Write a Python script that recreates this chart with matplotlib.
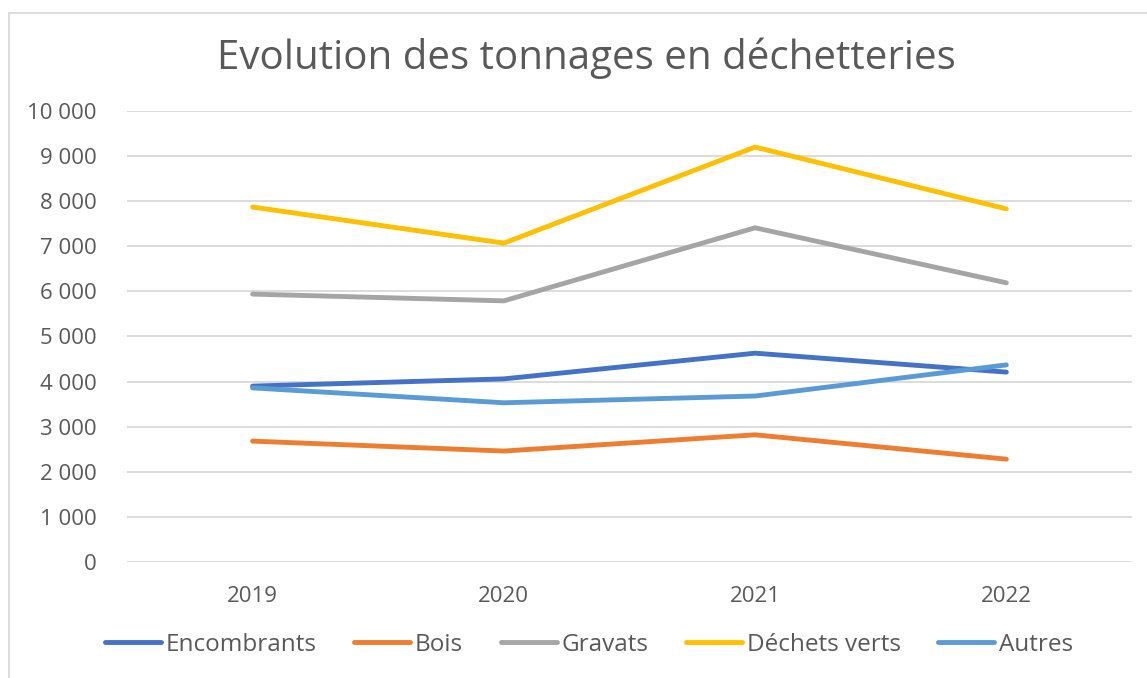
import matplotlib
matplotlib.use('Agg')
import matplotlib.pyplot as plt
from matplotlib.lines import Line2D
from matplotlib.ticker import FuncFormatter
import numpy as np

annees = ['2019', '2020', '2021', '2022']
encombrants = [3900, 4060, 4630, 4210]
bois = [2680, 2460, 2820, 2280]
gravats = [5940, 5790, 7410, 6190]
dechets_verts = [7870, 7070, 9200, 7830]
autres = [3860, 3530, 3680, 4370]

series = [('Encombrants', encombrants, '#4472C4'),
          ('Bois', bois, '#ED7D31'),
          ('Gravats', gravats, '#A5A5A5'),
          ('Déchets verts', dechets_verts, '#FFC000'),
          ('Autres', autres, '#5B9BD5')]

plt.rcParams['font.family'] = ['Open Sans', 'DejaVu Sans']
gris = '#595959'

fig = plt.figure(figsize=(11.47, 6.78), dpi=100)
ax = fig.add_axes([0.1107, 0.1711, 0.8762, 0.6652])

x = np.arange(len(annees))
for nom, vals, c in series:
    ax.plot(x, vals, color=c, lw=3.5, label=nom, solid_capstyle='round', solid_joinstyle='round')

ax.set_xlim(-0.5, len(annees) - 0.5)
ax.set_ylim(0, 10000)
ax.set_yticks(np.arange(0, 10001, 1000))
ax.yaxis.set_major_formatter(FuncFormatter(lambda v, p: '{:,.0f}'.format(v).replace(',', ' ')))
ax.set_xticks(x)
ax.set_xticklabels(annees)
ax.grid(axis='y', color='#D9D9D9', lw=1.3)
ax.set_axisbelow(True)
for s in ax.spines.values():
    s.set_visible(False)
ax.tick_params(axis='both', length=0, labelsize=16, labelcolor=gris)
ax.tick_params(axis='y', pad=22)
ax.tick_params(axis='x', pad=17)

fig.text(0.511, 1 - 58 / 678, 'Evolution des tonnages en déchetteries', ha='center', va='center',
         fontsize=29, color=gris)

fig.legend(loc='center', bbox_to_anchor=(0.5135, 1 - 645 / 678), ncol=5, frameon=False,
           fontsize=17.5, labelcolor=gris, handlelength=2.3, handletextpad=0.2, columnspacing=1.55)

# cadre du graphique
fig.add_artist(Line2D([9 / 1147, 9 / 1147], [0, 1 - 13 / 678], color='#D9D9D9', lw=1.3))
fig.add_artist(Line2D([9 / 1147, 1], [1 - 13 / 678, 1 - 13 / 678], color='#D9D9D9', lw=1.3))

fig.savefig('out.png', dpi=100, facecolor='white')
